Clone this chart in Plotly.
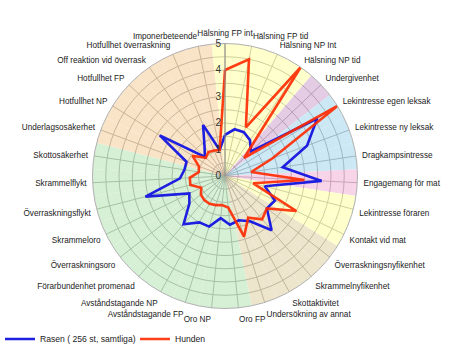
import plotly.graph_objects as go

categories = [
    "Hälsning FP int", "Hälsning FP tid", "Hälsning NP Int", "Hälsning NP tid",
    "Undergivenhet", "Lekintresse egen leksak", "Lekintresse ny leksak",
    "Dragkampsintresse", "Engagemang för mat", "Lekintresse föraren",
    "Kontakt vid mat", "Överraskningsnyfikenhet", "Skrammelnyfikenhet",
    "Skottaktivitet", "Undersökning av annat", "Oro FP", "Oro NP",
    "Avståndstagande FP", "Avståndstagande NP", "Förarbundenhet promenad",
    "Överraskningsoro", "Skrammeloro", "Överraskningsflykt", "Skrammelflykt",
    "Skottosäkerhet", "Underlagsosäkerhet", "Hotfullhet NP", "Hotfullhet FP",
    "Off reaktion vid överrask", "Hotfullhet överraskning", "Imponerbeteende",
]

rasen = [1.55, 1.8, 1.8, 1.65, 1.35, 4.1, 3.3, 2.2, 3.65, 1.55,
         2.1, 2.0, 2.7, 1.95, 1.75, 1.85, 1.6, 2.0, 2.0, 2.4,
         1.7, 1.5, 3.1, 1.7, 1.55, 1.55, 2.9, 1.05, 1.35, 2.1, 1.0]

hunden = [4.0, 4.5, 2.0, 5.0, 1.0, 5.0, 1.9, 1.0, 3.0, 1.1,
          3.0, 2.0, 2.15, 1.8, 2.4, 1.2, 1.1, 1.15, 1.2, 1.2,
          1.15, 1.0, 1.35, 1.33, 1.0, 1.05, 1.45, 1.0, 1.1, 1.05, 1.0]

# background group of each category
groups = (["yellow"] * 4 + ["purple"] + ["blue"] * 3 + ["pink"] + ["yellow"] * 2
          + ["tan"] * 4 + ["green"] * 10 + ["peach"] * 6)

group_rgb = {
    "yellow": (255, 255, 204),
    "purple": (229, 204, 229),
    "blue": (204, 232, 244),
    "pink": (248, 212, 232),
    "tan": (238, 230, 204),
    "green": (214, 240, 214),
    "peach": (250, 228, 200),
}

alpha = 0.6


def bar_color(rgb):
    vals = [max(0, min(255, round((c - (1 - alpha) * 255) / alpha))) for c in rgb]
    return "rgb(%d,%d,%d)" % tuple(vals)


band_colors = [bar_color(group_rgb[g]) for g in groups]

fig = go.Figure()

fig.add_trace(go.Barpolar(
    r=[5] * len(categories),
    theta=categories,
    width=[1] * len(categories),
    marker=dict(color=band_colors, line=dict(width=0)),
    opacity=alpha,
    showlegend=False,
    hoverinfo="skip",
))

fig.add_trace(go.Scatterpolar(
    r=rasen + rasen[:1],
    theta=categories + categories[:1],
    mode="lines",
    name="Rasen ( 256 st, samtliga)",
    line=dict(color="#1f1fe0", width=2.6),
))

fig.add_trace(go.Scatterpolar(
    r=hunden + hunden[:1],
    theta=categories + categories[:1],
    mode="lines",
    name="Hunden",
    line=dict(color="#ff2a00", width=2.6),
    opacity=0.9,
))

cx, cy, rad = 225, 176, 132.5
W, H = 450, 360

fig.update_layout(
    width=W, height=H,
    margin=dict(l=0, r=0, t=0, b=0),
    paper_bgcolor="white",
    font=dict(family="Liberation Sans, Arial, sans-serif", size=9, color="#222"),
    polar=dict(
        domain=dict(x=[(cx - rad) / W, (cx + rad) / W],
                    y=[(H - cy - rad) / H, (H - cy + rad) / H]),
        bgcolor="white",
        bargap=0,
        angularaxis=dict(
            rotation=90, direction="clockwise",
            showline=True, linecolor="#b0b0b0", linewidth=1,
            gridcolor="#8a8a8a", gridwidth=1,
            ticks="outside", ticklen=4, tickcolor="rgba(0,0,0,0)",
            tickfont=dict(size=8.2, color="#222"),
        ),
        radialaxis=dict(
            range=[0, 5], angle=90, tickangle=90,
            side="counterclockwise",
            tickvals=[i * 0.5 for i in range(11)],
            ticktext=[str(i // 2) if i % 2 == 0 else "" for i in range(11)],
            showline=True, linecolor="#8a8a8a", linewidth=1,
            gridcolor="#8a8a8a", gridwidth=1,
            ticks="", tickfont=dict(size=10, color="#333"),
        ),
    ),
    legend=dict(
        orientation="h", x=0.0, y=(H - 339) / H, xanchor="left", yanchor="middle",
        font=dict(size=8.6, color="#222"), bgcolor="rgba(0,0,0,0)",
        entrywidth=90,
    ),
)

fig.write_html(
    "out.html",
    config={"displayModeBar": False},
    post_script="document.body.style.margin='0';document.body.style.overflow='hidden';",
)
